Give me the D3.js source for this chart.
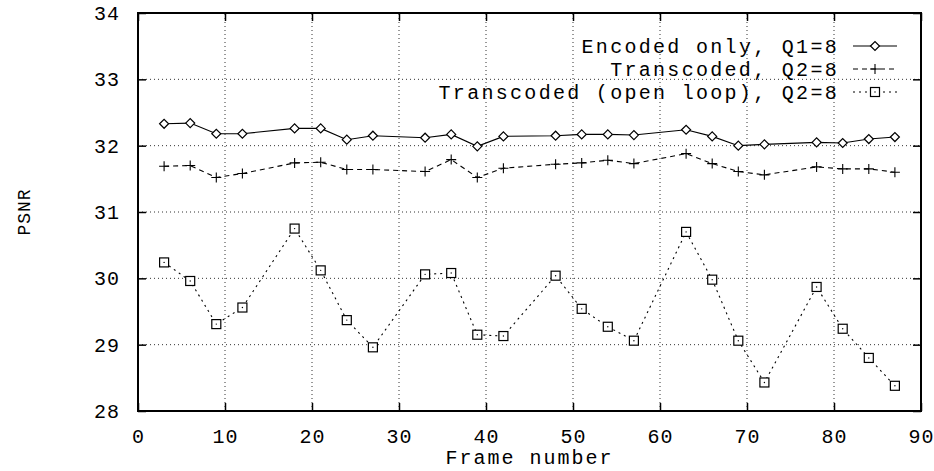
<!DOCTYPE html>
<html>
<head>
<meta charset="utf-8">
<script src="https://cdn.jsdelivr.net/npm/d3@7"></script>
<style>
  body { margin: 0; background: #fff; }
  svg text { font-family: "Liberation Mono", "DejaVu Sans Mono", monospace; fill: #000; }
</style>
</head>
<body>
<svg id="chart" width="934" height="471"></svg>
<script>
// frame numbers shared by all three series
const frames = [3, 6, 9, 12, 18, 21, 24, 27, 33, 36, 39, 42, 48, 51, 54, 57, 63, 66, 69, 72, 78, 81, 84, 87];
const encodedOnly = [32.33, 32.34, 32.18, 32.18, 32.26, 32.26, 32.09, 32.15, 32.12, 32.17, 31.99, 32.14,
  32.15, 32.17, 32.17, 32.16, 32.24, 32.14, 32.00, 32.02, 32.05, 32.04, 32.10, 32.13];
const transcoded = [31.69, 31.70, 31.52, 31.58, 31.74, 31.75, 31.64, 31.64, 31.61, 31.79, 31.52, 31.66,
  31.72, 31.74, 31.78, 31.73, 31.88, 31.73, 31.61, 31.56, 31.68, 31.65, 31.65, 31.60];
const openLoop = [30.24, 29.96, 29.31, 29.56, 30.75, 30.12, 29.37, 28.96, 30.06, 30.08, 29.15, 29.13,
  30.04, 29.54, 29.27, 29.06, 30.70, 29.98, 29.06, 28.43, 29.87, 29.24, 28.80, 28.38];
const seriesNames = ['Encoded only, Q1=8', 'Transcoded, Q2=8', 'Transcoded (open loop), Q2=8'];
const xTicks = [0, 10, 20, 30, 40, 50, 60, 70, 80, 90];
const yTicks = [28, 29, 30, 31, 32, 33, 34];

const svg = d3.select('#chart');
const margin = { left: 138, right: 13, top: 13, bottom: 60 };
const width = 934, height = 471;
const x = d3.scaleLinear().domain([0, 90]).range([margin.left, width - margin.right]);
const y = d3.scaleLinear().domain([28, 34]).range([height - margin.bottom, margin.top]);
const x0 = x(0), x1 = x(90), y0 = y(28), y1 = y(34);

// dotted grid
const grid = svg.append('g').attr('class', 'grid')
  .attr('stroke', '#333').attr('stroke-width', 1).attr('stroke-dasharray', '1,3');
grid.selectAll('line.gx').data(xTicks.slice(1, -1)).join('line')
  .attr('x1', d => x(d)).attr('x2', d => x(d)).attr('y1', y0).attr('y2', y1);
grid.selectAll('line.gy').data(yTicks.slice(1, -1)).join('line')
  .attr('y1', d => y(d)).attr('y2', d => y(d)).attr('x1', x0).attr('x2', x1);

// axes with inward ticks, mirrored on top / right
const tickLen = 8;
const xAxis = svg.append('g').attr('transform', `translate(0,${y0})`)
  .call(d3.axisBottom(x).tickValues(xTicks).tickSize(-tickLen).tickPadding(18).tickFormat(d3.format('d')));
const yAxis = svg.append('g').attr('transform', `translate(${x0},0)`)
  .call(d3.axisLeft(y).tickValues(yTicks).tickSize(-tickLen).tickPadding(18).tickFormat(d3.format('d')));
svg.append('g').attr('transform', `translate(0,${y1})`)
  .call(d3.axisTop(x).tickValues(xTicks).tickSize(-tickLen).tickFormat(''));
svg.append('g').attr('transform', `translate(${x1},0)`)
  .call(d3.axisRight(y).tickValues(yTicks).tickSize(-tickLen).tickFormat(''));
svg.selectAll('.domain').remove();
svg.selectAll('.tick line').attr('stroke', '#000').attr('stroke-width', 1.5);
[xAxis, yAxis].forEach(a => a.selectAll('text')
  .style('font-size', '20px').style('letter-spacing', '1px')
  .style('font-family', '"Liberation Mono", monospace').attr('fill', '#000'));

// frame border
svg.append('rect')
  .attr('x', x0).attr('y', y1).attr('width', x1 - x0).attr('height', y0 - y1)
  .attr('fill', 'none').attr('stroke', '#000').attr('stroke-width', 2);

// axis titles
svg.append('text')
  .attr('x', (x0 + x1) / 2).attr('y', 464)
  .attr('text-anchor', 'middle').style('font-size', '20px').style('letter-spacing', '2px')
  .text('Frame number');
svg.append('text')
  .attr('transform', `translate(24,${(y0 + y1) / 2}) rotate(-90)`)
  .attr('text-anchor', 'middle').attr('dy', '0.35em')
  .style('font-size', '18px').style('letter-spacing', '1px')
  .text('PSNR');

// markers
function diamond(g, cx, cy) {
  g.append('path').attr('d', `M${cx - 4.5},${cy}L${cx},${cy - 4.5}L${cx + 4.5},${cy}L${cx},${cy + 4.5}Z`)
    .attr('fill', '#fff').attr('stroke', '#000').attr('stroke-width', 1.2);
}
function plus(g, cx, cy) {
  g.append('path').attr('d', `M${cx - 5},${cy}H${cx + 5}M${cx},${cy - 5}V${cy + 5}`)
    .attr('fill', 'none').attr('stroke', '#000').attr('stroke-width', 1.1);
}
function square(g, cx, cy) {
  g.append('rect').attr('x', cx - 4.5).attr('y', cy - 4.5).attr('width', 9).attr('height', 9)
    .attr('fill', '#fff').attr('stroke', '#000').attr('stroke-width', 1.2);
  g.append('circle').attr('cx', cx).attr('cy', cy).attr('r', 0.7).attr('fill', '#000');
}

const series = [
  { name: seriesNames[0], values: encodedOnly, dash: null, marker: diamond },
  { name: seriesNames[1], values: transcoded, dash: '5,4', marker: plus },
  { name: seriesNames[2], values: openLoop, dash: '2,4', marker: square }
];

const line = d3.line().x(d => x(d[0])).y(d => y(d[1]));
series.forEach(s => {
  const pts = frames.map((f, i) => [f, s.values[i]]);
  const g = svg.append('g');
  g.append('path').datum(pts).attr('d', line)
    .attr('fill', 'none').attr('stroke', '#000').attr('stroke-width', 1.1)
    .attr('stroke-dasharray', s.dash);
  pts.forEach(p => s.marker(g, x(p[0]), y(p[1])));
});

// legend
const legendY = [46, 69, 92];
series.forEach((s, i) => {
  const g = svg.append('g');
  g.append('text')
    .attr('x', 839).attr('y', legendY[i]).attr('dy', '0.35em')
    .attr('text-anchor', 'end').style('font-size', '20px').style('letter-spacing', '2.3px')
    .text(s.name);
  g.append('line').attr('x1', 853).attr('x2', 897).attr('y1', legendY[i]).attr('y2', legendY[i])
    .attr('stroke', '#000').attr('stroke-width', 1.1).attr('stroke-dasharray', s.dash);
  s.marker(g, 875, legendY[i]);
});
</script>
</body>
</html>
